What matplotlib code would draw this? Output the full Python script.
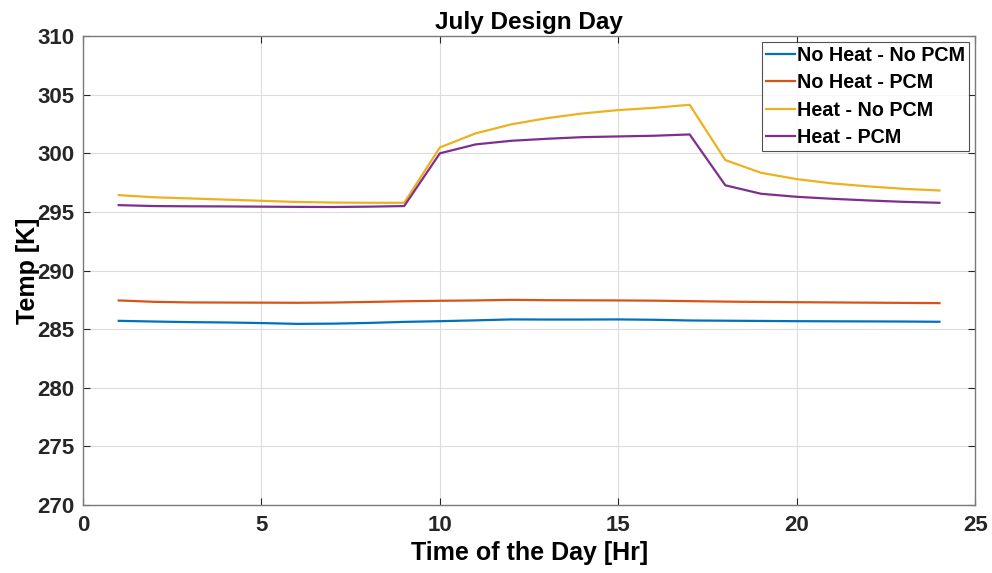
import matplotlib.pyplot as plt

plt.rcParams['font.family'] = ['Liberation Sans', 'DejaVu Sans']
plt.rcParams['font.weight'] = 'bold'

# Hourly temperatures for the July design day
hours = list(range(1, 25))
no_heat_no_pcm = [285.71, 285.65, 285.6, 285.57, 285.52, 285.45, 285.47, 285.53, 285.62,
                  285.68, 285.75, 285.83, 285.82, 285.82, 285.83, 285.8, 285.74, 285.72,
                  285.7, 285.68, 285.67, 285.66, 285.65, 285.63]
no_heat_pcm = [287.45, 287.33, 287.28, 287.27, 287.26, 287.25, 287.27, 287.32, 287.38,
               287.42, 287.45, 287.5, 287.47, 287.46, 287.45, 287.43, 287.39, 287.35,
               287.32, 287.3, 287.28, 287.26, 287.24, 287.22]
heat_no_pcm = [296.43, 296.25, 296.15, 296.05, 295.95, 295.85, 295.8, 295.78, 295.78,
               300.5, 301.7, 302.47, 303.0, 303.4, 303.69, 303.88, 304.14, 299.42,
               298.34, 297.8, 297.43, 297.18, 296.97, 296.83]
heat_pcm = [295.58, 295.5, 295.48, 295.47, 295.45, 295.43, 295.42, 295.45, 295.5,
            300.0, 300.76, 301.07, 301.24, 301.38, 301.44, 301.5, 301.61, 297.27,
            296.55, 296.29, 296.12, 295.98, 295.86, 295.78]

series = [
    ('No Heat - No PCM', no_heat_no_pcm, '#0072BD'),
    ('No Heat - PCM', no_heat_pcm, '#D95319'),
    ('Heat - No PCM', heat_no_pcm, '#EDB120'),
    ('Heat - PCM', heat_pcm, '#7E2F8E'),
]

fig = plt.figure(figsize=(9.92, 5.73), dpi=100)
ax = fig.add_axes([0.0837, 0.1187, 0.8993, 0.8183])

for label, vals, col in series:
    ax.plot(hours, vals, color=col, linewidth=1.6, label=label)

ax.set_xlim(0, 25)
ax.set_ylim(270, 310)
ax.set_xticks(range(0, 26, 5))
ax.set_yticks(range(270, 311, 5))
ax.grid(True, color='#dcdcdc', linewidth=0.8)
ax.set_axisbelow(True)
ax.tick_params(direction='in', labelsize=16, colors='#262626', length=5,
               top=True, right=True)
ax.tick_params(axis='x', pad=7)
ax.tick_params(axis='y', pad=6)
for s in ax.spines.values():
    s.set_color('#7a7a7a')
    s.set_linewidth(1.0)
for lbl in ax.get_xticklabels() + ax.get_yticklabels():
    lbl.set_fontweight('bold')

ax.set_title('July Design Day', fontsize=17.5, fontweight='bold', pad=5)
ax.set_xlabel('Time of the Day [Hr]', fontsize=18, fontweight='bold', labelpad=4)
ax.set_ylabel('Temp [K]', fontsize=18, fontweight='bold', labelpad=-2)

leg = ax.legend(loc='upper right', prop={'weight': 'bold', 'size': 14.2},
                frameon=True, fancybox=False, handlelength=1.5, handletextpad=0.1,
                borderpad=0.2, labelspacing=0.42, borderaxespad=0.3)
leg.get_frame().set_edgecolor('#262626')
leg.get_frame().set_linewidth(0.8)

fig.savefig('out.png', dpi=100, facecolor='white')
